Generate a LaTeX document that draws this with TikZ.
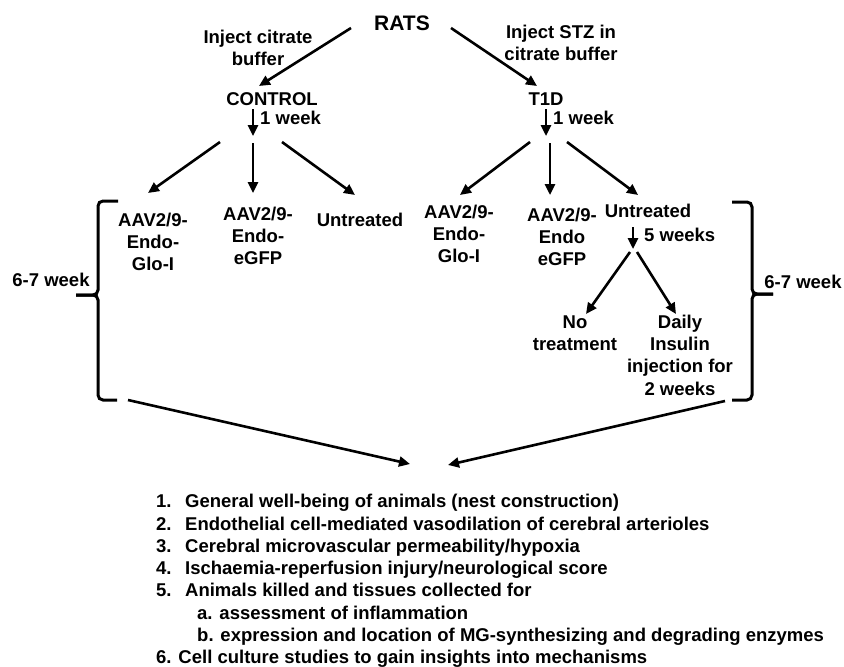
\documentclass[tikz,border=0pt]{standalone}
\usepackage{fontspec}
\setmainfont{Liberation Sans}
\usetikzlibrary{arrows.meta}
\begin{document}
\begin{tikzpicture}[x=1pt,y=-1pt,
  lbl/.style={font=\fontsize{18.5}{22.3}\selectfont\bfseries, inner sep=0pt, align=center},
  arr/.style={line width=2.6pt, -{Triangle[length=11pt,width=10pt]}},
  bracepath/.style={line width=3pt, rounded corners=5pt},
  listitem/.style={font=\fontsize{18.5}{22}\selectfont\bfseries, inner sep=0pt, anchor=base west}]
\useasboundingbox (0,0) rectangle (844,667);

% top
\node[lbl, font=\fontsize{21}{25}\selectfont\bfseries] (rats) at (402,23) {RATS};
\node[lbl] (injc) at (258,48) {Inject citrate\\buffer};
\node[lbl] (injs) at (561,43) {Inject STZ in\\citrate buffer};
\node[lbl] (control) at (272,99) {CONTROL};
\node[lbl] (t1d) at (546,99) {T1D};
\draw[arr] ([shift={(-51,5)}]rats.center) -- ([shift={(-13,-13)}]control.center);
\draw[arr] ([shift={(49,5)}]rats.center) -- ([shift={(-9,-13)}]t1d.center);

% one week
\coordinate (cj) at (253,136);
\coordinate (tj) at (546,136);
\draw[arr] ([shift={(-19,10)}]control.center) -- (cj);
\draw[arr] ([shift={(0,10)}]t1d.center) -- (tj);
\node[lbl, anchor=west] (cw) at (260,118) {1 week};
\node[lbl, anchor=west] (tw) at (553,118) {1 week};

% control children
\node[lbl] (cglo) at (153,242) {AAV2/9-\\Endo-\\Glo-I};
\node[lbl] (cgfp) at (258,236) {AAV2/9-\\Endo-\\eGFP};
\node[lbl] (cunt) at (360,220) {Untreated};
\draw[arr] ([shift={(-33,6)}]cj) -- ([shift={(-5,-49)}]cglo.center);
\draw[arr] ([shift={(0,7)}]cj) -- ([shift={(-5,-43)}]cgfp.center);
\draw[arr] ([shift={(29,6)}]cj) -- ([shift={(-5,-25)}]cunt.center);

% T1D children
\node[lbl] (tglo) at (459,234) {AAV2/9-\\Endo-\\Glo-I};
\node[lbl] (tgfp) at (562,237) {AAV2/9-\\Endo\\eGFP};
\node[lbl] (tunt) at (648,211) {Untreated};
\draw[arr] ([shift={(-16,6)}]tj) -- ([shift={(1,-39)}]tglo.center);
\draw[arr] ([shift={(4,7)}]tj) -- ([shift={(-12,-42)}]tgfp.center);
\draw[arr] ([shift={(21,6)}]tj) -- ([shift={(-10,-16)}]tunt.center);

% five weeks
\coordinate (uj) at (633,249);
\draw[arr] ([shift={(-15,16)}]tunt.center) -- (uj);
\node[lbl, anchor=west] (fw) at (644,235) {5 weeks};
\node[lbl] (notr) at (575,333) {No\\treatment};
\node[lbl] (daily) at (680,355) {Daily\\Insulin\\injection for\\2 weeks};
\draw[arr] ([shift={(-3,3)}]uj) -- ([shift={(11,-19)}]notr.center);
\draw[arr] ([shift={(4,3)}]uj) -- ([shift={(-4,-41)}]daily.center);

% braces
\draw[bracepath] (118,201) -- (98,201) -- (98,295) -- (76,295);
\draw[bracepath] (117,400) -- (98,400) -- (98,295) -- (76,295);
\draw[bracepath] (732,202) -- (752,202) -- (752,294) -- (773,294);
\draw[bracepath] (732,400) -- (752,400) -- (752,294) -- (773,294);
\node[lbl] (lweek) at (51,280) {6-7 week};
\node[lbl] (rweek) at (803,282) {6-7 week};

% converging arrows
\coordinate (lb) at (128,400);
\coordinate (rb) at (725,401);
\coordinate (tipl) at (410,464);
\coordinate (tipr) at (448,465);
\draw[arr] (lb) -- (tipl);
\draw[arr] (rb) -- (tipr);

% list
\node[listitem] (l1) at (156,507.7) {\makebox[29pt][l]{1.}General well-being of animals (nest construction)};
\node[listitem] (l2) at (156,530) {\makebox[29pt][l]{2.}Endothelial cell-mediated vasodilation of cerebral arterioles};
\node[listitem] (l3) at (156,552.3) {\makebox[29pt][l]{3.}Cerebral microvascular permeability/hypoxia};
\node[listitem] (l4) at (156,574.6) {\makebox[29pt][l]{4.}Ischaemia-reperfusion injury/neurological score};
\node[listitem] (l5) at (156,596.9) {\makebox[29pt][l]{5.}Animals killed and tissues collected for};
\node[listitem] (l5a) at (197,619.2) {a. assessment of inflammation};
\node[listitem] (l5b) at (197,641.5) {b. expression and location of MG-synthesizing and degrading enzymes};
\node[listitem] (l6) at (156,663.8) {6. Cell culture studies to gain insights into mechanisms};
\end{tikzpicture}
\end{document}
